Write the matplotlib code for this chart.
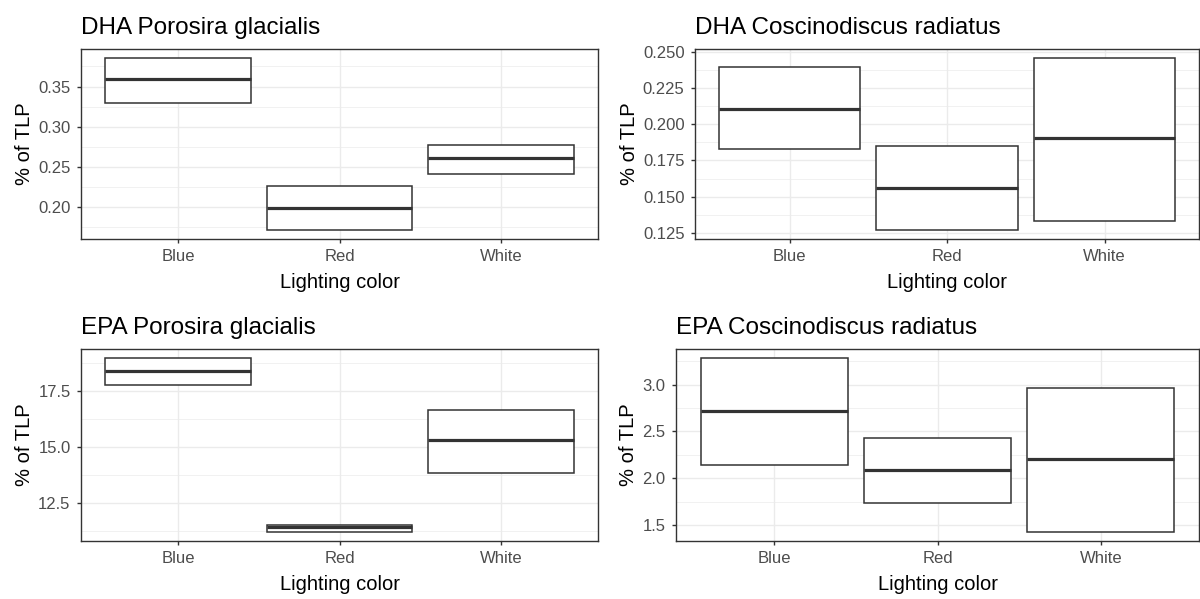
import matplotlib.pyplot as plt
from matplotlib.ticker import MultipleLocator
import numpy as np

plt.rcParams['font.family'] = ['Liberation Sans', 'DejaVu Sans']

# Lighting colors (x categories)
categories = ["Blue", "Red", "White"]

# Box stats per panel: lower hinge, median, upper hinge
dha_pg_q1 = [0.330, 0.171, 0.241]
dha_pg_med = [0.359, 0.199, 0.261]
dha_pg_q3 = [0.386, 0.226, 0.2775]

dha_cr_q1 = [0.1827, 0.1268, 0.1336]
dha_cr_med = [0.2107, 0.1561, 0.1907]
dha_cr_q3 = [0.2391, 0.1852, 0.2459]

epa_pg_q1 = [17.74, 11.18, 13.82]
epa_pg_med = [18.37, 11.40, 15.30]
epa_pg_q3 = [18.98, 11.49, 16.66]

epa_cr_q1 = [2.136, 1.735, 1.422]
epa_cr_med = [2.713, 2.085, 2.210]
epa_cr_q3 = [3.287, 2.433, 2.968]

panels = [
    ("DHA Porosira glacialis", dha_pg_q1, dha_pg_med, dha_pg_q3, 0.05, "%.2f"),
    ("DHA Coscinodiscus radiatus", dha_cr_q1, dha_cr_med, dha_cr_q3, 0.025, "%.3f"),
    ("EPA Porosira glacialis", epa_pg_q1, epa_pg_med, epa_pg_q3, 2.5, "%.1f"),
    ("EPA Coscinodiscus radiatus", epa_cr_q1, epa_cr_med, epa_cr_q3, 0.5, "%.1f"),
]

# panel rectangles in pixels: left, top, right, bottom
rects = [(81, 49, 598, 239), (695, 49, 1199, 239),
         (81, 349, 598, 541), (676, 349, 1199, 541)]

W, H = 1200, 599
fig = plt.figure(figsize=(W / 100, H / 100), dpi=100)

x = np.arange(1, len(categories) + 1)
for (title, q1, med, q3, step, fmt), (l, t, r, b) in zip(panels, rects):
    ax = fig.add_axes([l / W, 1 - b / H, (r - l) / W, (b - t) / H])
    q1 = np.array(q1)
    q3 = np.array(q3)
    ax.bar(x, q3 - q1, bottom=q1, width=0.9, facecolor="white",
           edgecolor="#333333", linewidth=1.1, zorder=3)
    ax.hlines(med, x - 0.45, x + 0.45, color="#333333", linewidth=2.3, zorder=4)

    lo, hi = q1.min(), q3.max()
    pad = (hi - lo) * 0.05
    ax.set_ylim(lo - pad, hi + pad)
    ax.set_xlim(0.4, 3.6)
    ax.yaxis.set_major_locator(MultipleLocator(step))
    ax.yaxis.set_minor_locator(MultipleLocator(step / 2))
    ax.yaxis.set_major_formatter(plt.FormatStrFormatter(fmt))
    ax.set_xticks(x)
    ax.set_xticklabels(categories)

    ax.grid(True, which="major", color="#EBEBEB", linewidth=1.0, zorder=0)
    ax.grid(True, which="minor", axis="y", color="#EBEBEB", linewidth=0.5, zorder=0)
    ax.set_axisbelow(True)
    for s in ax.spines.values():
        s.set_color("#333333")
        s.set_linewidth(1.0)
    ax.tick_params(axis="both", which="major", colors="#333333", labelcolor="#4D4D4D",
                   labelsize=12, length=3, width=1.0, pad=4.5)
    ax.tick_params(axis="y", which="minor", length=0)

    ax.set_title(title, loc="left", fontsize=17.5, pad=11)
    ax.set_xlabel("Lighting color", fontsize=14.5, labelpad=6)
    ax.set_ylabel("% of TLP", fontsize=14.5, labelpad=3)

plt.savefig("out.png", dpi=100)
